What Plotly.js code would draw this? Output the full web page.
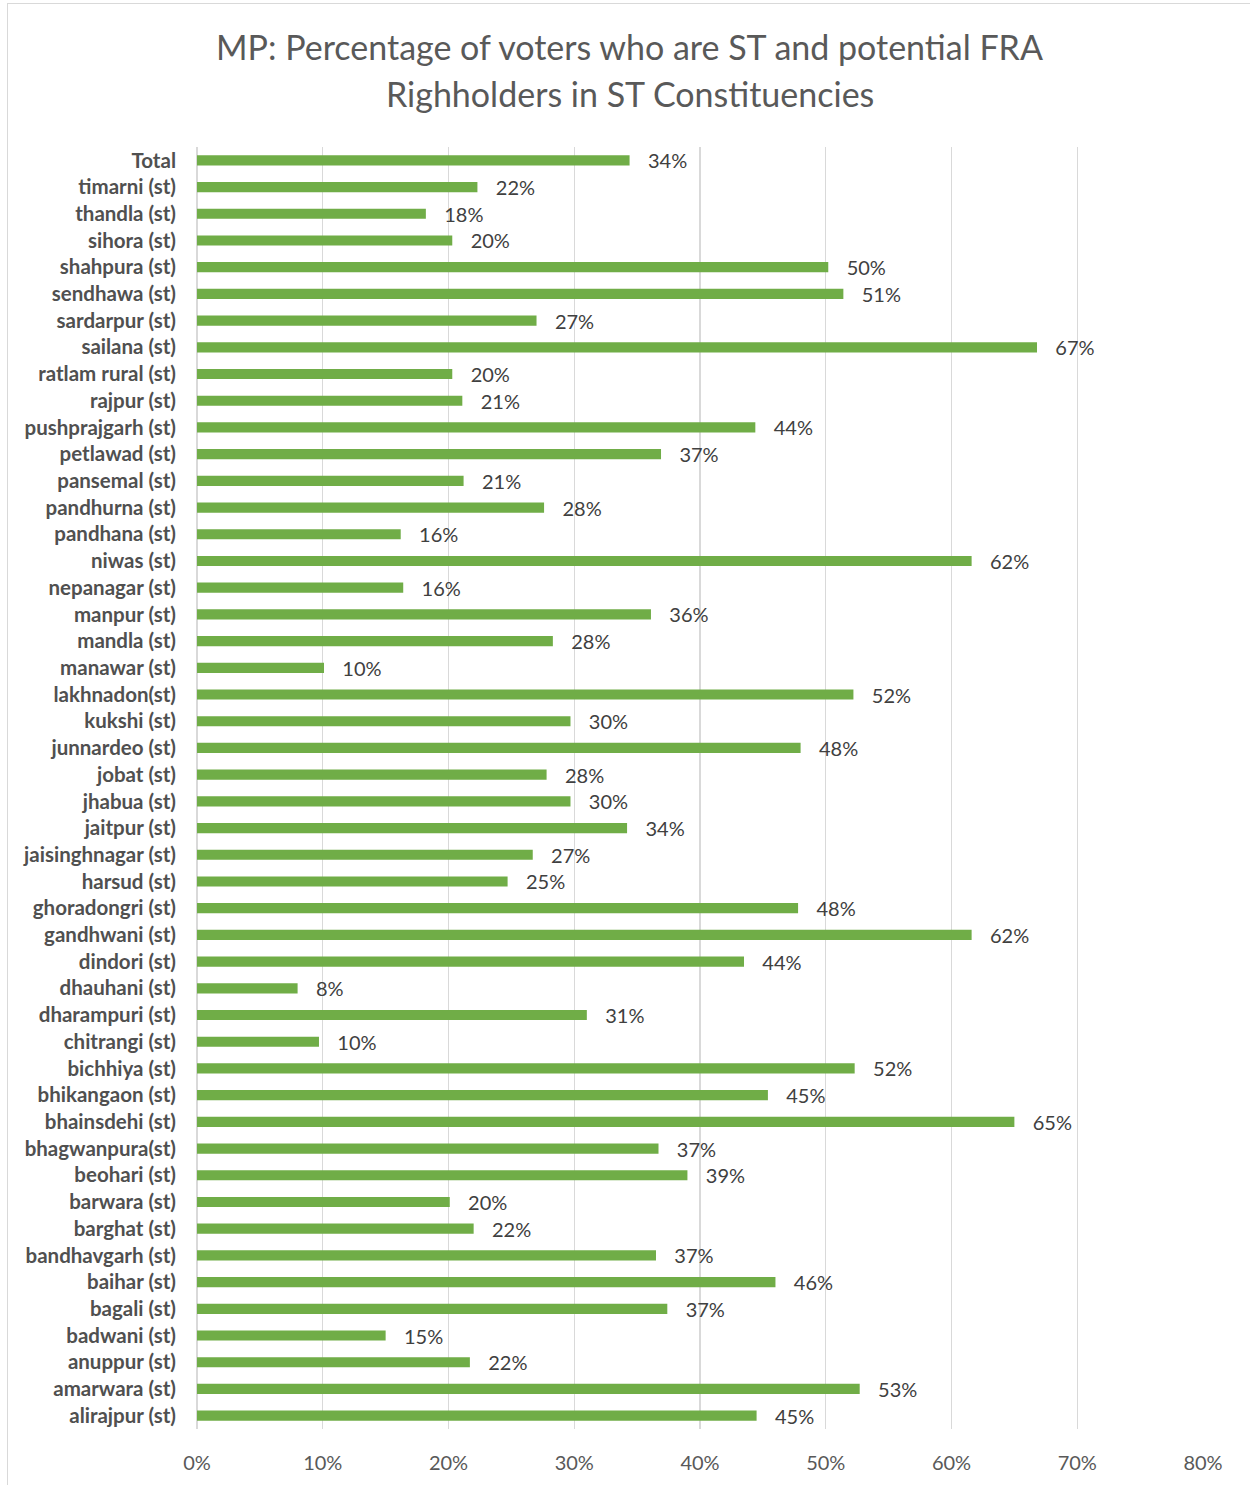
<!DOCTYPE html>
<html><head><meta charset="utf-8">
<script src="https://cdn.plot.ly/plotly-3.0.1.min.js"></script>
<style>
html,body{margin:0;padding:0;background:#fff;}
#wrap{position:absolute;left:0;top:0;width:1250px;height:1485px;}
#border{position:absolute;left:7px;top:3px;width:1300px;height:1600px;border:1px solid #d9d9d9;box-sizing:border-box;pointer-events:none;}
#chart{position:absolute;left:0;top:0;width:1250px;height:1485px;}
</style></head>
<body>
<div id="wrap"><div id="chart"></div><div id="border"></div></div>
<script>
const constituencies = ["Total","timarni (st)","thandla (st)","sihora (st)","shahpura (st)","sendhawa (st)","sardarpur (st)","sailana (st)","ratlam rural (st)","rajpur (st)","pushprajgarh (st)","petlawad (st)","pansemal (st)","pandhurna (st)","pandhana (st)","niwas (st)","nepanagar (st)","manpur (st)","mandla (st)","manawar (st)","lakhnadon(st)","kukshi (st)","junnardeo (st)","jobat (st)","jhabua (st)","jaitpur (st)","jaisinghnagar (st)","harsud (st)","ghoradongri (st)","gandhwani (st)","dindori (st)","dhauhani (st)","dharampuri (st)","chitrangi (st)","bichhiya (st)","bhikangaon (st)","bhainsdehi (st)","bhagwanpura(st)","beohari (st)","barwara (st)","barghat (st)","bandhavgarh (st)","baihar (st)","bagali (st)","badwani (st)","anuppur (st)","amarwara (st)","alirajpur (st)"];
const stShare = [0.344,0.223,0.182,0.203,0.502,0.514,0.270,0.668,0.203,0.211,0.444,0.369,0.212,0.276,0.162,0.616,0.164,0.361,0.283,0.101,0.522,0.297,0.480,0.278,0.297,0.342,0.267,0.247,0.478,0.616,0.435,0.080,0.310,0.097,0.523,0.454,0.650,0.367,0.390,0.201,0.220,0.365,0.460,0.374,0.150,0.217,0.527,0.445];
const xTickVals = [0,0.1,0.2,0.3,0.4,0.5,0.6,0.7,0.8];
const xTickText = ["0%","10%","20%","30%","40%","50%","60%","70%","80%"];
const titleLines = ["MP: Percentage of voters who are ST and potential FRA","Righholders in ST Constituencies"];

const trace = {
  type: "bar",
  orientation: "h",
  y: constituencies,
  x: stShare,
  marker: {color: "#70ad47"},
  texttemplate: "\u00a0\u00a0\u00a0%{x:.0%}",
  textposition: "outside",
  constraintext: "none",
  cliponaxis: false,
  textfont: {family: "Lato, sans-serif", size: 20, color: "#404040"},
  outsidetextfont: {family: "Lato, sans-serif", size: 20, color: "#404040"},
  hoverinfo: "skip"
};
const layout = {
  width: 1250, height: 1485,
  margin: {l: 197, r: 47, t: 147, b: 56},
  paper_bgcolor: "rgba(0,0,0,0)",
  plot_bgcolor: "#fff",
  showlegend: false,
  bargap: 0.62,
  font: {family: "Lato, sans-serif", color: "#595959"},
  annotations: [
    {text: titleLines[0], xref: "paper", yref: "paper", x: 0.43, y: 1.0785, xanchor: "center", yanchor: "middle", showarrow: false,
     font: {family: "Lato, sans-serif", size: 34, color: "#595959"}},
    {text: titleLines[1], xref: "paper", yref: "paper", x: 0.43, y: 1.042, xanchor: "center", yanchor: "middle", showarrow: false,
     font: {family: "Lato, sans-serif", size: 34, color: "#595959"}}
  ],
  xaxis: {range: [0, 0.8], tickvals: xTickVals, ticktext: xTickText,
          showgrid: true, gridcolor: "#d9d9d9", gridwidth: 1.3,
          zeroline: true, zerolinecolor: "#d9d9d9", zerolinewidth: 1.3,
          showline: false, ticks: "", ticklabelstandoff: 20,
          tickfont: {family: "Lato, sans-serif", size: 20, color: "#595959"}, fixedrange: true},
  yaxis: {type: "category", autorange: "reversed", showgrid: false, zeroline: false,
          showline: false, ticks: "", ticklabelstandoff: 20,
          tickfont: {family: "Lato, sans-serif", size: 20.5, color: "#505050", weight: "bold"}, fixedrange: true}
};
Plotly.newPlot("chart", [trace], layout, {displayModeBar: false, staticPlot: true});
</script>
</body></html>
